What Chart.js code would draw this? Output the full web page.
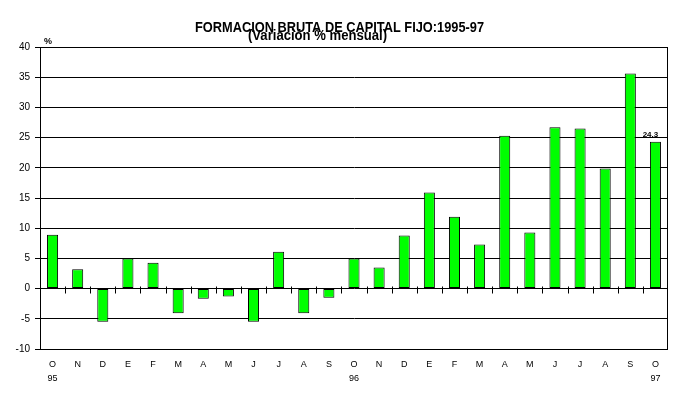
<!DOCTYPE html>
<html>
<head>
<meta charset="utf-8">
<script src="https://cdn.jsdelivr.net/npm/chart.js@4"></script>
<style>
  html, body { margin: 0; padding: 0; background: #fff; }
  #wrap { width: 679px; height: 395px; position: relative; }
</style>
</head>
<body>
<div id="wrap"><canvas id="c" width="679" height="395"></canvas></div>
<script>
const months = ['O','N','D','E','F','M','A','M','J','J','A','S','O','N','D','E','F','M','A','M','J','J','A','S','O'];
const years = {0: '95', 12: '96', 24: '97'};
const values = [8.9, 3.2, -5.5, 5.0, 4.3, -4.1, -1.7, -1.3, -5.5, 6.1, -4.1, -1.5,
                5.0, 3.5, 8.8, 15.9, 11.9, 7.3, 25.3, 9.3, 26.7, 26.5, 19.9, 35.6, 24.3];
const yTicks = [-10, -5, 0, 5, 10, 15, 20, 25, 30, 35, 40];
const titleText = 'FORMACION BRUTA DE CAPITAL FIJO:1995-97';
const subtitleText = '(Variación % mensual)';
const unitText = '%';
const lastLabel = '24.3';

const labels = months.map((m, i) => years[i] ? [m, years[i]] : m);
const sans = "'Liberation Sans', Arial, sans-serif";

function fitText(ctx, text, cx, baseline, width) {
  const w = ctx.measureText(text).width;
  const s = width / w;
  ctx.save();
  ctx.translate(cx, baseline);
  ctx.scale(s, 1);
  ctx.textAlign = 'center';
  ctx.fillText(text, 0, 0);
  ctx.restore();
}

const decor = {
  id: 'decor',
  beforeDatasetsDraw(chart) {
    const {ctx, scales: {x, y}} = chart;
    ctx.save();
    ctx.strokeStyle = '#000';
    ctx.lineWidth = 1;
    const y0 = Math.round(y.getPixelForValue(0)) + 0.5;
    for (let i = 0; i < months.length - 1; i++) {
      const xb = Math.round((x.getPixelForValue(i) + x.getPixelForValue(i + 1)) / 2) + 0.5;
      ctx.beginPath();
      ctx.moveTo(xb, y0 - 3);
      ctx.lineTo(xb, y0 + 4);
      ctx.stroke();
    }
    ctx.restore();
  },
  afterDraw(chart) {
    const {ctx, chartArea: a, scales: {x, y}} = chart;
    ctx.save();
    ctx.strokeStyle = '#000';
    ctx.lineWidth = 1;
    ctx.strokeRect(Math.round(a.left) + 0.5, Math.round(a.top) + 0.5,
                   Math.round(a.right - a.left) - 1, Math.round(a.bottom - a.top));
    ctx.fillStyle = '#000';
    ctx.textBaseline = 'alphabetic';
    ctx.font = 'bold 14.5px ' + sans;
    fitText(ctx, titleText, 339.5, 31.5, 289);
    fitText(ctx, subtitleText, 317.5, 40, 139);
    ctx.font = 'bold 9px ' + sans;
    ctx.textAlign = 'left';
    ctx.fillText(unitText, 44, 44);
    const li = values.length - 1;
    ctx.font = 'bold 8px ' + sans;
    ctx.textAlign = 'center';
    ctx.fillText(lastLabel, x.getPixelForValue(li) - 5, y.getPixelForValue(values[li]) - 5);
    ctx.restore();
  }
};

new Chart(document.getElementById('c'), {
  type: 'bar',
  data: {
    labels: labels,
    datasets: [{
      data: values,
      backgroundColor: '#00ff00',
      borderColor: '#000',
      borderWidth: 1,
      borderSkipped: false,
      categoryPercentage: 1.0,
      barPercentage: 0.44
    }]
  },
  options: {
    responsive: false,
    animation: false,
    devicePixelRatio: 1,
    layout: { padding: { left: 0, right: 11, top: 47, bottom: 0 } },
    plugins: { legend: { display: false }, tooltip: { enabled: false } },
    scales: {
      x: {
        grid: { display: false, drawTicks: false },
        border: { display: false },
        ticks: {
          color: '#000',
          font: { family: sans, size: 9, lineHeight: '14px' },
          padding: 9,
          maxRotation: 0,
          autoSkip: false
        },
        afterFit(s) { s.height = 46; }
      },
      y: {
        min: -10, max: 40,
        afterBuildTicks(s) { s.ticks = yTicks.map(v => ({ value: v })); },
        grid: { color: '#000', lineWidth: 1, tickLength: 5, drawTicks: true },
        border: { display: true, color: '#000' },
        ticks: {
          color: '#000',
          font: { family: sans, size: 10 },
          padding: 5
        },
        afterFit(s) { s.width = 40; }
      }
    }
  },
  plugins: [decor]
});
</script>
</body>
</html>
